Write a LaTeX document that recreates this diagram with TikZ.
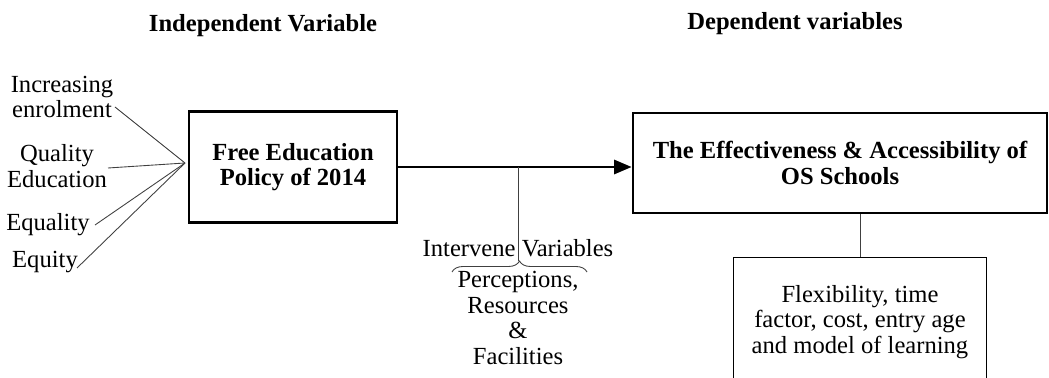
\documentclass[tikz,border=0pt]{standalone}
\usepackage{fontspec}
\setmainfont{Liberation Serif}
\usetikzlibrary{arrows.meta,decorations.pathreplacing}

\begin{document}
\begin{tikzpicture}[x=0.02cm,y=-0.02cm,font=\fontsize{14}{14.6}\selectfont]
        \tikzstyle{heading}=[font=\fontsize{14}{14.6}\selectfont\bfseries,inner sep=0pt]
        \tikzstyle{factor}=[align=center,inner sep=0pt]
        \tikzstyle{mainbox}=[draw,line width=1.6pt,align=center,font=\fontsize{14}{14.6}\selectfont\bfseries]
        \tikzstyle{thin line}=[line width=0.5pt,black!75]
        \useasboundingbox (0,0) rectangle (1049,378);
        % headings
        \node[heading] (indep) at (263,26) {Independent Variable};
        \node[heading] (dep) at (795,24) {Dependent variables};
        % independent side
        \node[mainbox,minimum width=4.16cm,minimum height=2.22cm] (policy) at (293,167) {Free Education\\Policy of 2014};
        \node[factor] (enrol) at (62,97) {Increasing\\enrolment};
        \node[factor] (quality) at (57,166) {Quality\\Education};
        \node[factor] (equality) at (48,225) {Equality};
        \node[factor] (equity) at (45,262) {Equity};
        \coordinate (hub) at (185,163);
        \coordinate (enrolend) at (115,107);
        \coordinate (qualityend) at (108,168);
        \coordinate (equalityend) at (95,225);
        \coordinate (equityend) at (77,268);
        \foreach \f in {enrolend,qualityend,equalityend,equityend}
            \draw[thin line] (\f) -- (hub);
        % dependent side
        \node[mainbox,minimum width=8.28cm,minimum height=2cm] (oss) at (840,163) {The Effectiveness \& Accessibility of\\OS Schools};
        \draw[line width=1.6pt,-{Triangle[length=10pt,width=8pt]}] (policy.east) -- (oss.west |- policy.east);
        \node[draw,line width=0.6pt,minimum width=5.06cm,minimum height=3.4cm,anchor=north] (detail) at (860,257) {};
        \node[factor] (detailtext) at (860,322) {Flexibility, time\\factor, cost, entry age\\and model of learning};
        \draw[thin line] (oss.south -| detail.north) -- (detail.north);
        % intervening variables
        \coordinate (tap) at (518,167);
        \coordinate (bracetip) at (518,261);
        \node[factor] (intervene) at (518,248) {Intervene Variables};
        \node[factor] (resources) at (518,318) {Perceptions,\\Resources\\\&\\Facilities};
        \draw[thin line] (tap) -- (bracetip);
        \draw[thin line,decorate,decoration={brace,amplitude=0.22cm}] (452,272) -- (587,272);
\end{tikzpicture}
\end{document}
